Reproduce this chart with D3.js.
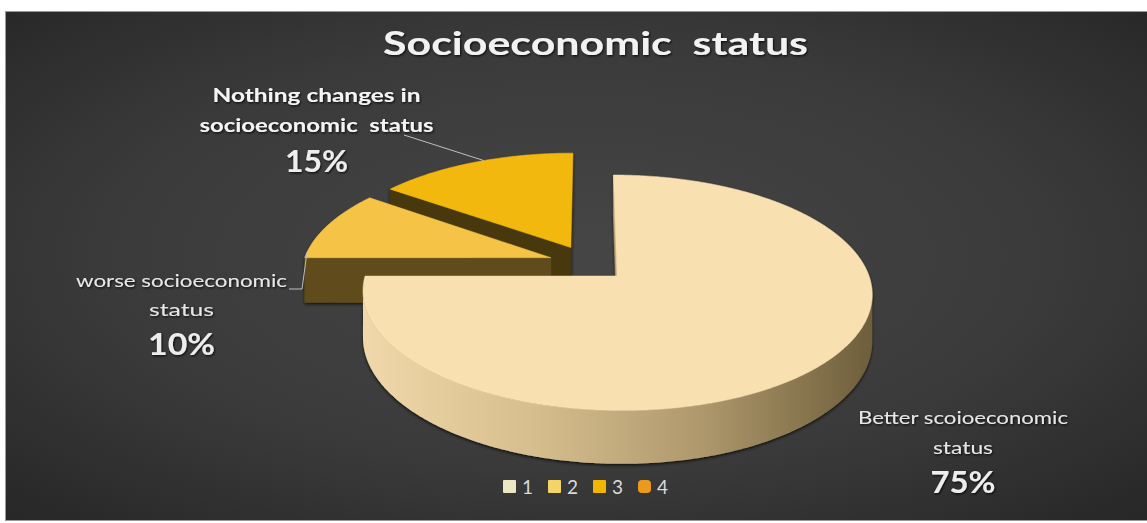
<!DOCTYPE html>
<html>
<head>
<meta charset="utf-8">
<script src="https://cdn.jsdelivr.net/npm/d3@7"></script>
<style>
  html, body { margin: 0; padding: 0; background: #ffffff; }
  svg { display: block; }
  text { font-family: Lato, "Open Sans", "DejaVu Sans", sans-serif; white-space: pre; }
</style>
</head>
<body>
<svg id="chart" width="1147" height="523"></svg>
<script>
// ---- data ----
const categories = ["1", "2", "3", "4"];
const values = [75, 10, 15, 0];
const sliceNames = [
  ["Better scoioeconomic", "status"],
  ["worse socioeconomic", "status"],
  ["Nothing changes in", "socioeconomic  status"],
  null
];
const chartTitle = "Socioeconomic  status";

// ---- styles ----
const topColors  = ["#F9E0B1", "#F5C447", "#F3B80B", "#E89B1C"];
const cutColors  = ["#BFA774", "#5E4C1C", "#46380E", "#8A5A10"];
const wallColors = [["#F0D8AA", "#D6BE8E", "#AE986C", "#6E5E3B"],
                    ["#C99A28", "#9C7618"],
                    ["#A07A08", "#7A5C05"],
                    ["#B07414", "#8A5A10"]];
const legendColors = ["#EDE6C2", "#F2D468", "#F1B600", "#EA9A1E"];

// perspective projection of the pie disc (radius 1) onto the page
const P = { cx: 588.5, cy: 263.2, A: 248, B: 111.75, k: 0.14, H: 45, explode: 0.16 };
function proj(X, T, h) {
  const w = 1 + P.k * T;
  return [P.cx + P.A * X / w, P.cy - P.B * T / w + h * P.H / w];
}

const svg = d3.select("#chart");
const defs = svg.append("defs");

const bg = defs.append("radialGradient").attr("id", "bg")
  .attr("cx", "50%").attr("cy", "48%").attr("r", "70%");
bg.append("stop").attr("offset", "0%").attr("stop-color", "#464646");
bg.append("stop").attr("offset", "60%").attr("stop-color", "#3a3a3a");
bg.append("stop").attr("offset", "100%").attr("stop-color", "#282828");

const shadow = defs.append("filter").attr("id", "pieShadow")
  .attr("x", "-10%").attr("y", "-10%").attr("width", "120%").attr("height", "130%");
shadow.append("feDropShadow").attr("dx", 0).attr("dy", 1.5).attr("stdDeviation", 1.6)
  .attr("flood-color", "#000").attr("flood-opacity", 0.75);

const txtShadow = defs.append("filter").attr("id", "txtShadow")
  .attr("x", "-10%").attr("y", "-30%").attr("width", "120%").attr("height", "160%");
txtShadow.append("feDropShadow").attr("dx", 1).attr("dy", 1.2).attr("stdDeviation", 1)
  .attr("flood-color", "#000").attr("flood-opacity", 0.8);

// chart area
svg.append("rect").attr("x", 5.5).attr("y", 11.5).attr("width", 1142).attr("height", 509)
  .attr("fill", "url(#bg)").attr("stroke", "#9a9a9a").attr("stroke-width", 1);

// title
svg.append("text").attr("x", 595.5).attr("y", 55).attr("text-anchor", "middle")
  .attr("font-size", 32).attr("font-weight", 700).attr("fill", "#F2F2F2")
  .attr("textLength", 425).attr("lengthAdjust", "spacingAndGlyphs")
  .attr("filter", "url(#txtShadow)")
  .text(chartTitle);

// ---- pie ----
const pie = d3.pie().sort(null).startAngle(0).endAngle(2 * Math.PI);
const arcs = pie(values).map((a, i) => {
  const mid = (a.startAngle + a.endAngle) / 2;
  return { ...a, i, ox: P.explode * Math.sin(mid), ot: P.explode * Math.cos(mid) };
}).filter(a => a.value > 0);

const line = d3.line();
function rimPoint(a, theta, h) {
  return proj(a.ox + Math.sin(theta), a.ot + Math.cos(theta), h);
}
function centerPoint(a, h) { return proj(a.ox, a.ot, h); }
function area2(pts) {
  let s = 0;
  for (let j = 0; j < pts.length; j++) {
    const p = pts[j], q = pts[(j + 1) % pts.length];
    s += p[0] * q[1] - q[0] * p[1];
  }
  return s;
}

const gPie = svg.append("g").attr("filter", "url(#pieShadow)");
// far slices first
arcs.slice().sort((a, b) => b.ot - a.ot).forEach(a => {
  const g = gPie.append("g");
  const step = Math.PI / 360;
  const thetas = d3.range(a.startAngle, a.endAngle, step).concat([a.endAngle]);

  // outer rim wall: collect contiguous runs of front-facing angles
  const runs = [];
  let cur = null;
  for (let j = 0; j < thetas.length - 1; j++) {
    const t1 = thetas[j], t2 = thetas[j + 1];
    const quad = [rimPoint(a, t1, 0), rimPoint(a, t2, 0), rimPoint(a, t2, 1), rimPoint(a, t1, 1)];
    if (area2(quad) < 0) {
      if (!cur) { cur = [t1]; runs.push(cur); }
      cur.push(t2);
    } else cur = null;
  }
  runs.forEach((run, r) => {
    const topArc = run.map(t => rimPoint(a, t, 0));
    const botArc = run.map(t => rimPoint(a, t, 1)).reverse();
    const pts = topArc.concat(botArc);
    const x0 = d3.min(pts, p => p[0]), x1 = d3.max(pts, p => p[0]);
    const wc = wallColors[a.i];
    const gid = `wall${a.i}_${r}`;
    const grad = defs.append("linearGradient").attr("id", gid)
      .attr("gradientUnits", "userSpaceOnUse")
      .attr("x1", x0).attr("y1", 0).attr("x2", x1).attr("y2", 0);
    wc.forEach((c, j) => grad.append("stop")
      .attr("offset", wc.length > 1 ? j / (wc.length - 1) : 0).attr("stop-color", c));
    g.append("path").attr("d", line(pts) + "Z").attr("fill", `url(#${gid})`);
  });

  // radial cut faces
  const startFace = [centerPoint(a, 0), rimPoint(a, a.startAngle, 0), rimPoint(a, a.startAngle, 1), centerPoint(a, 1)];
  const endFace = [rimPoint(a, a.endAngle, 0), centerPoint(a, 0), centerPoint(a, 1), rimPoint(a, a.endAngle, 1)];
  [startFace, endFace].forEach(f => {
    if (area2(f) < 0) {
      g.append("path").attr("d", line(f) + "Z").attr("fill", cutColors[a.i])
        .attr("stroke", cutColors[a.i]).attr("stroke-width", 0.5);
    }
  });

  // top face
  const topPts = [centerPoint(a, 0)].concat(thetas.map(t => rimPoint(a, t, 0)));
  g.append("path").attr("d", line(topPts) + "Z").attr("fill", topColors[a.i])
    .attr("stroke", topColors[a.i]).attr("stroke-width", 0.5);
});

// ---- data labels ----
const fmtPct = d3.format(".0%");
const total = d3.sum(values);
const labelLayout = {
  0: { x: 963, lines: [424, 454], widths: [210, 60], pct: 493, pctW: 65, bold: false },
  1: { x: 181.5, lines: [287, 316], widths: [211, 65], pct: 355, pctW: 67, bold: false },
  2: { x: 316.5, lines: [102, 132], widths: [208, 234], pct: 172, pctW: 63, bold: true }
};

// leader lines
function arcAt(i, frac) {
  const a = arcs.find(d => d.i === i);
  return rimPoint(a, a.startAngle + (a.endAngle - a.startAngle) * frac, 0);
}
const p2 = arcAt(2, 0.55);
svg.append("path").attr("d", line([[404, 135], p2]))
  .attr("fill", "none").attr("stroke", "#BFBFBF").attr("stroke-width", 1);
const p1 = arcAt(1, 0.08);
svg.append("path").attr("d", line([[289, 289], [302, 289], p1]))
  .attr("fill", "none").attr("stroke", "#BFBFBF").attr("stroke-width", 1);

const gLab = svg.append("g").attr("filter", "url(#txtShadow)");
values.forEach((v, i) => {
  const L = labelLayout[i];
  if (!L || !sliceNames[i]) return;
  sliceNames[i].forEach((s, j) => {
    gLab.append("text").attr("x", L.x).attr("y", L.lines[j]).attr("text-anchor", "middle")
      .attr("font-size", 18).attr("font-weight", L.bold ? 700 : 400)
      .attr("fill", L.bold ? "#F4F4F4" : "#E6E6E6")
      .attr("textLength", L.widths[j]).attr("lengthAdjust", "spacingAndGlyphs")
      .text(s);
  });
  gLab.append("text").attr("x", L.x).attr("y", L.pct).attr("text-anchor", "middle")
    .attr("font-size", 30).attr("font-weight", 700).attr("fill", "#EDEDED")
    .attr("textLength", L.pctW).attr("lengthAdjust", "spacingAndGlyphs")
    .text(fmtPct(v / total));
});

// ---- legend ----
const legend = svg.append("g");
categories.forEach((c, i) => {
  const x0 = 503 + i * 45;
  legend.append("rect").attr("x", x0).attr("y", 480).attr("width", 13).attr("height", 13)
    .attr("rx", i === 3 ? 4 : 1).attr("fill", legendColors[i]);
  legend.append("text").attr("x", x0 + 19).attr("y", 494)
    .attr("font-size", 19).attr("fill", "#DADADA").text(c);
});
</script>
</body>
</html>
